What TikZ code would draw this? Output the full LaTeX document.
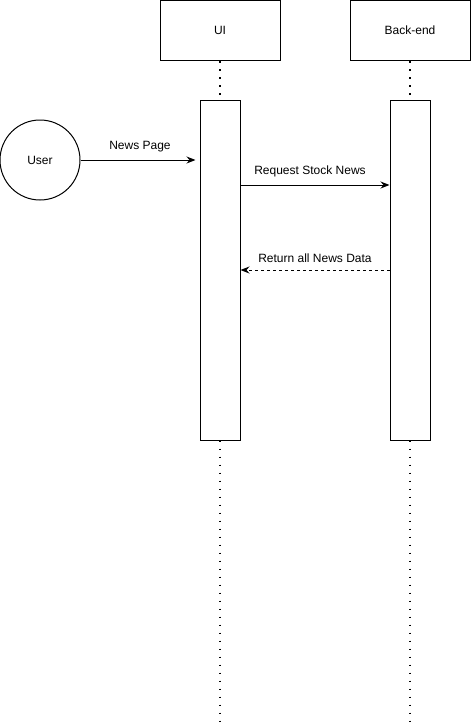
\documentclass[tikz,border=0pt]{standalone}
\usepackage{fontspec}
\setmainfont{Liberation Sans}
\usetikzlibrary{arrows.meta}
\begin{document}
\begin{tikzpicture}[x=1pt, y=-1pt, line width=1pt, font=\fontsize{12}{14}\selectfont,
    actor/.style={draw, minimum width=120pt, minimum height=60pt, inner sep=0pt},
    bar/.style={draw, fill=white, minimum width=40pt, minimum height=340pt, inner sep=0pt},
    life/.style={line width=1.5pt, dash pattern=on 1.8pt off 6.2pt},
    msg/.style={-{Stealth[length=9pt, width=7pt, inset=3pt]}}]
      \useasboundingbox (0,0) rectangle (471,723);

      % lifeline heads and activation bars
      \node[actor] (ui) at (220,30.5) {UI};
      \node[actor] (be) at (410,30.5) {Back-end};
      \node[bar] (uibar) at (220,270) {};
      \node[bar] (bebar) at (410,270) {};
      \node[draw, circle, minimum size=80pt, inner sep=0pt] (user) at (40,160) {User};

      \coordinate (uiend) at (220,723);
      \coordinate (beend) at (410,723);
      \draw[life] (ui.south) -- (uibar.north);
      \draw[life] (uibar.south) -- (uiend);
      \draw[life] (be.south) -- (bebar.north);
      \draw[life] (bebar.south) -- (beend);
      \node[bar] at (uibar) {};
      \node[bar] at (bebar) {};

      % messages
      \coordinate (req) at (0,185);
      \coordinate (ret) at (0,270);
      \draw[msg, shorten >=4pt] (user.east) -- (user.east -| uibar.west)
        node[midway, above=4pt] {News Page};
      \draw[msg] (req -| uibar.east) -- (req -| bebar.west)
        node[midway, above=4pt, xshift=-5pt] {Request Stock News};
      \draw[msg, dash pattern=on 3pt off 3pt] (ret -| bebar.west) -- (ret -| uibar.east)
        node[midway, above=4pt] {Return all News Data};
\end{tikzpicture}
\end{document}
